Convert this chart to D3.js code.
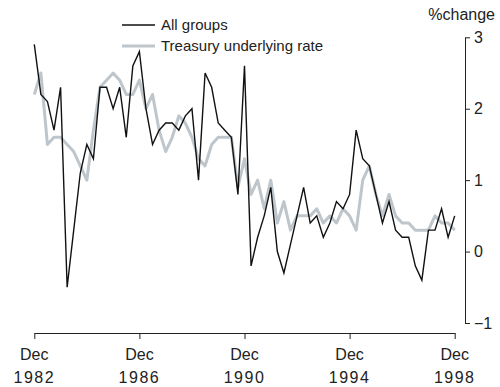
<!DOCTYPE html>
<html>
<head>
<meta charset="utf-8">
<script src="https://cdn.jsdelivr.net/npm/d3@7"></script>
<style>
  body { margin: 0; background: #fff; }
  svg text { font-family: "Liberation Sans", Arial, sans-serif; fill: #222; }
</style>
</head>
<body>
<svg id="chart" width="500" height="387"></svg>
<script>
// quarterly, Dec 1982 .. Dec 1998
var allGroups = [2.9, 2.2, 2.1, 1.7, 2.3, -0.5, 0.3, 1.1, 1.5, 1.3,
  2.3, 2.3, 2.0, 2.3, 1.6, 2.6, 2.8, 2.0, 1.5, 1.7,
  1.8, 1.8, 1.7, 1.9, 2.0, 1.0, 2.5, 2.3, 1.8, 1.7,
  1.6, 0.8, 2.6, -0.2, 0.2, 0.5, 0.9, 0.0, -0.3, 0.1,
  0.5, 0.9, 0.4, 0.5, 0.2, 0.4, 0.7, 0.6, 0.8, 1.7,
  1.3, 1.2, 0.8, 0.4, 0.7, 0.3, 0.2, 0.2, -0.2, -0.4,
  0.3, 0.3, 0.6, 0.2, 0.5]
var treasury = [2.2, 2.5, 1.5, 1.6, 1.6, 1.5, 1.4, 1.2, 1.0, 1.7,
  2.3, 2.4, 2.5, 2.4, 2.2, 2.2, 2.4, 2.0, 2.2, 1.7,
  1.4, 1.6, 1.9, 1.8, 1.6, 1.3, 1.2, 1.5, 1.6, 1.6,
  1.6, 0.9, 1.3, 0.8, 1.0, 0.6, 1.0, 0.4, 0.7, 0.3,
  0.5, 0.5, 0.5, 0.6, 0.4, 0.5, 0.4, 0.6, 0.5, 0.3,
  1.0, 1.2, 0.8, 0.5, 0.8, 0.5, 0.4, 0.4, 0.3, 0.3,
  0.3, 0.5, 0.4, 0.4, 0.3]
var xTicks = [0, 16, 32, 48, 64]
var xTickLabels = [['Dec', '1982'], ['Dec', '1986'], ['Dec', '1990'], ['Dec', '1994'], ['Dec', '1998']]
var yTicks = [-1, 0, 1, 2, 3]

const svg = d3.select('#chart')

x = d3.scaleLinear()
  .domain([0, allGroups.length - 1])
  .range([34.3, 454.7])

y = d3.scaleLinear()
  .domain([-1, 3])
  .range([323, 37.3])

line = d3.line()
  .x((d, i) => x(i))
  .y(d => y(d))

// treasury first so the black line sits on top
svg.append('path')
  .datum(treasury)
  .attr('fill', 'none')
  .attr('stroke', '#bec6cc')
  .attr('stroke-width', 3)
  .attr('stroke-linejoin', 'round')
  .attr('d', line)

svg.append('path')
  .datum(allGroups)
  .attr('fill', 'none')
  .attr('stroke', '#111')
  .attr('stroke-width', 1.4)
  .attr('stroke-linejoin', 'miter')
  .attr('d', line)

// y axis on the right
yAxis = g => g
  .attr('transform', 'translate(465,0)')
  .call(d3.axisRight(y).tickValues(yTicks).tickSize(5).tickSizeOuter(0)
    .tickFormat(d => d < 0 ? '\u2212' + Math.abs(d) : d))
  .call(g => g.selectAll('.tick line').attr('stroke', '#222'))
  .call(g => g.select('.domain').attr('stroke', '#222'))
  .call(g => g.selectAll('.tick text').attr('x', 9).attr('font-size', 16).attr('font-family', null))

svg.append('g').call(yAxis)

svg.append('text')
  .attr('x', 495)
  .attr('y', 20)
  .attr('text-anchor', 'end')
  .attr('font-size', 16)
  .text('%change')

// x axis
xAxis = g => g
  .attr('transform', 'translate(0,333)')
  .call(d3.axisBottom(x).tickValues(xTicks).tickSize(6).tickSizeOuter(0).tickFormat(''))
  .call(g => g.selectAll('.tick line').attr('stroke', '#222'))
  .call(g => g.select('.domain').attr('stroke', '#222'))

svg.append('g').call(xAxis)

xTicks.forEach((t, i) => {
  const lab = svg.append('text')
    .attr('text-anchor', 'middle')
    .attr('font-size', 16)
  lab.append('tspan').attr('x', x(t)).attr('y', 360).text(xTickLabels[i][0])
  lab.append('tspan').attr('x', x(t)).attr('y', 383).attr('letter-spacing', 1.5).text(xTickLabels[i][1])
})

// legend
var legend = [
  {label: 'All groups', color: '#111', width: 1.4, y: 25},
  {label: 'Treasury underlying rate', color: '#bec6cc', width: 3, y: 46}
]
legend.forEach(o => {
  svg.append('line')
    .attr('x1', 122).attr('x2', 155)
    .attr('y1', o.y).attr('y2', o.y)
    .attr('stroke', o.color)
    .attr('stroke-width', o.width)
  svg.append('text')
    .attr('x', 161)
    .attr('y', o.y + 5)
    .attr('font-size', 15)
    .text(o.label)
})
</script>
</body>
</html>
